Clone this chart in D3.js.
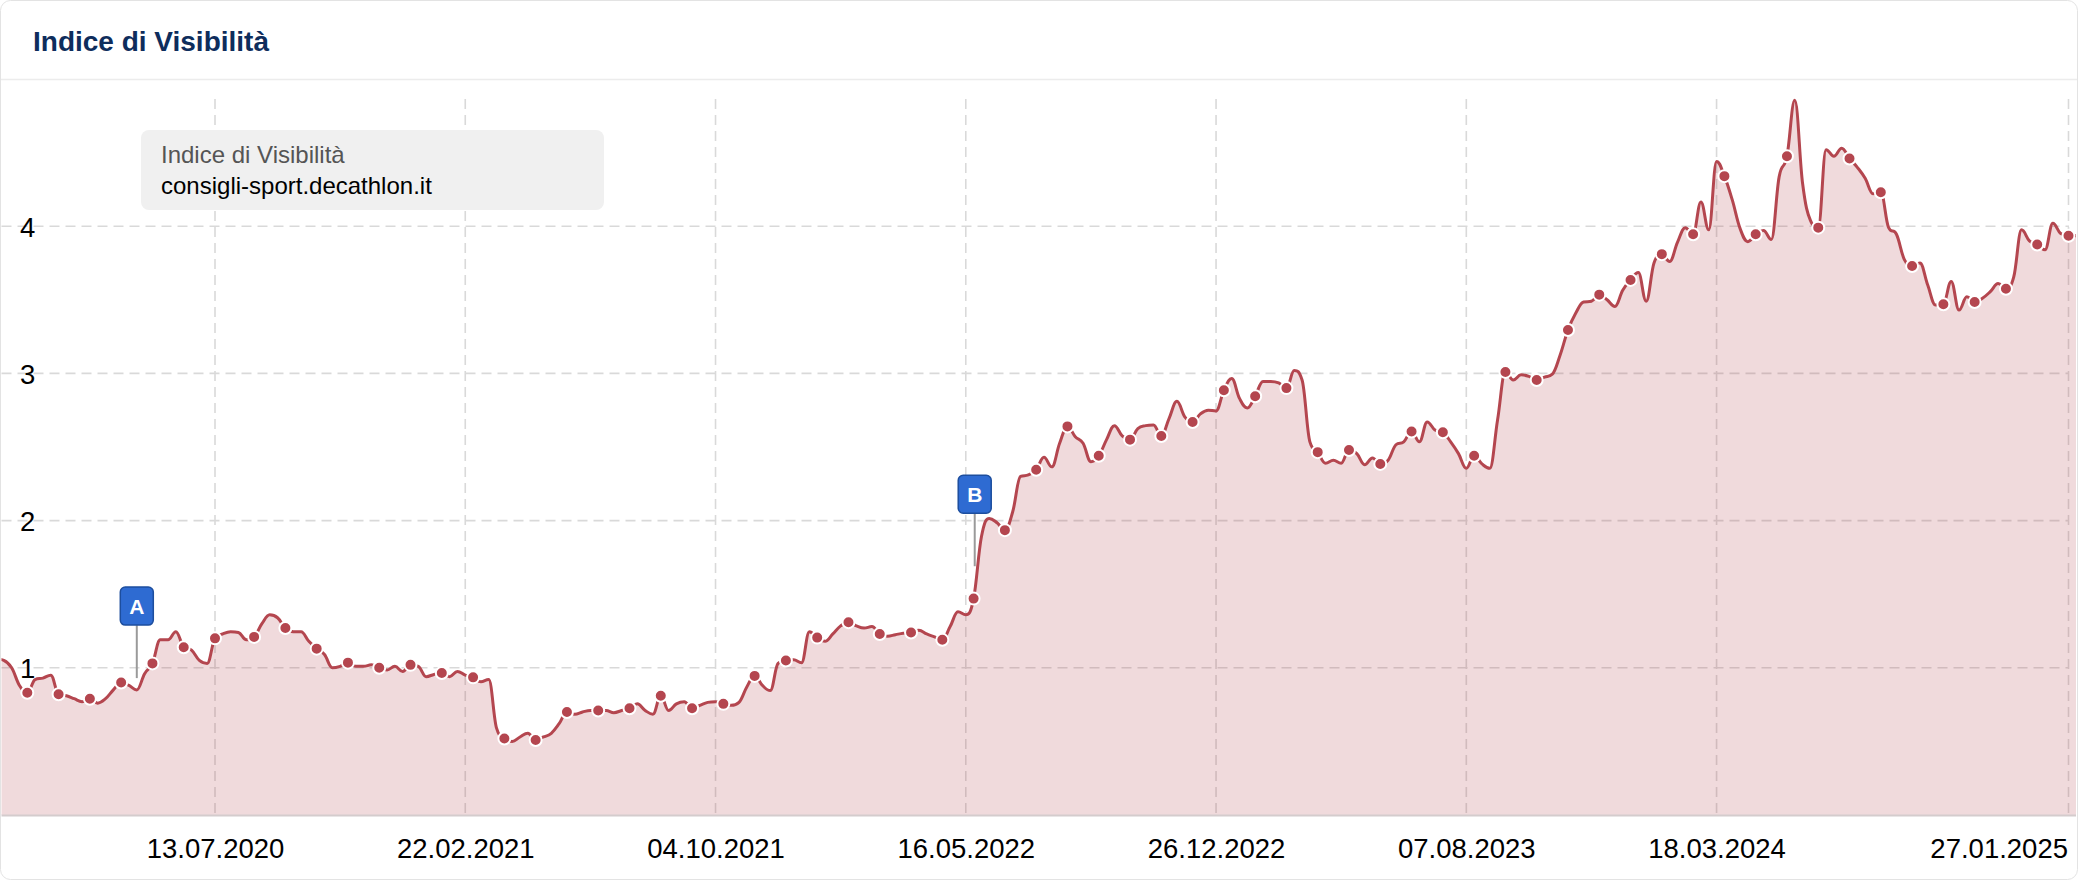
<!DOCTYPE html>
<html>
<head>
<meta charset="utf-8">
<script src="https://cdn.jsdelivr.net/npm/d3@7"></script>
<style>
  html, body { margin: 0; padding: 0; background: #ffffff; }
  svg { display: block; }
</style>
</head>
<body>
<svg id="chart" width="2078" height="880"></svg>
<script>
// ---------------- DATA ----------------
const chartTitle = "Indice di Visibilità";
const seriesLabel = "Indice di Visibilità";
const domainLabel = "consigli-sport.decathlon.it";

// weekly observations, first week starting Monday 30.12.2019
const firstWeek = "2019-12-30";
const values = [
  1.06, 1.05, 1.00, 0.88, 0.83, 0.92, 0.93, 0.95, 0.82, 0.81,
  0.79, 0.77, 0.79, 0.76, 0.79, 0.85, 0.90, 0.88, 0.85, 0.96,
  1.03, 1.19, 1.19, 1.245, 1.14, 1.12, 1.05, 1.03, 1.20, 1.23,
  1.245, 1.24, 1.19, 1.21, 1.30, 1.36, 1.34, 1.27, 1.245, 1.245,
  1.18, 1.13, 1.09, 1.00, 1.01, 1.035, 1.01, 1.01, 1.02, 1.00,
  0.985, 1.01, 0.975, 1.02, 1.01, 0.94, 0.955, 0.965, 0.94, 0.975,
  0.95, 0.935, 0.905, 0.92, 0.59, 0.52, 0.50, 0.53, 0.555, 0.51,
  0.53, 0.555, 0.62, 0.70, 0.685, 0.70, 0.71, 0.71, 0.71, 0.695,
  0.71, 0.725, 0.755, 0.71, 0.685, 0.81, 0.71, 0.755, 0.77, 0.725,
  0.745, 0.765, 0.77, 0.755, 0.745, 0.765, 0.87, 0.945, 0.88, 0.845,
  1.03, 1.05, 1.055, 1.035, 1.245, 1.205, 1.18, 1.23, 1.285, 1.31,
  1.285, 1.27, 1.28, 1.23, 1.215, 1.225, 1.235, 1.24, 1.255, 1.23,
  1.21, 1.19, 1.28, 1.38, 1.36, 1.47, 1.89, 2.015, 1.985, 1.935,
  2.06, 2.30, 2.31, 2.345, 2.43, 2.365, 2.525, 2.64, 2.57, 2.525,
  2.40, 2.44, 2.55, 2.645, 2.575, 2.55, 2.625, 2.645, 2.65, 2.575,
  2.695, 2.81, 2.705, 2.67, 2.725, 2.75, 2.745, 2.885, 2.965, 2.83,
  2.765, 2.845, 2.945, 2.945, 2.935, 2.90, 3.02, 2.955, 2.535, 2.465,
  2.39, 2.41, 2.39, 2.48, 2.455, 2.38, 2.425, 2.385, 2.41, 2.515,
  2.535, 2.605, 2.535, 2.67, 2.615, 2.60, 2.535, 2.455, 2.355, 2.44,
  2.385, 2.355, 2.685, 3.01, 2.955, 2.99, 2.98, 2.955, 2.975, 2.995,
  3.125, 3.295, 3.41, 3.485, 3.49, 3.535, 3.50, 3.455, 3.565, 3.635,
  3.685, 3.49, 3.75, 3.81, 3.76, 3.89, 3.99, 3.945, 4.165, 3.975,
  4.44, 4.34, 4.18, 3.985, 3.895, 3.945, 3.97, 3.91, 4.335, 4.475,
  4.855, 4.29, 4.04, 3.99, 4.52, 4.475, 4.53, 4.46, 4.40, 4.325,
  4.22, 4.23, 3.99, 3.945, 3.775, 3.73, 3.75, 3.60, 3.465, 3.47,
  3.625, 3.43, 3.52, 3.485, 3.51, 3.555, 3.61, 3.575, 3.655, 3.975,
  3.90, 3.875, 3.84, 4.02, 3.95, 3.935, 3.935
];

// indices of the weekly points that carry a marker
const markerIndex = d3.range(4, 29, 4).concat(d3.range(33, 267, 4));

const xTickLabels = ["13.07.2020", "22.02.2021", "04.10.2021", "16.05.2022",
                     "26.12.2022", "07.08.2023", "18.03.2024", "27.01.2025"];
const yTicks = [1, 2, 3, 4];
const yMax = 4.864;

const flags = [
  { label: "A", date: "2020-05-04", value: 0.93 },
  { label: "B", date: "2022-05-24", value: 1.69 }
];

// ---------------- LAYOUT ----------------
const W = 2078, H = 880;
const plot = { left: 1.5, right: 2076, top: 99, bottom: 815, gridRight: 2069 };
const colors = {
  line: "#b4464f",
  fill: "rgba(181,71,79,0.2)",
  grid: "#d9d9d9",
  axis: "#d4cccd",
  title: "#0e2d5c",
  flag: "#2e6bd2",
  flagStroke: "#1d4e9e",
  stem: "#9a9a9a"
};

const parse = d3.utcParse("%Y-%m-%d");
const parseLabel = d3.utcParse("%d.%m.%Y");
const fmt = d3.utcFormat("%d.%m.%Y");
const start = parse(firstWeek);
const data = values.map((v, k) => ({ date: d3.utcWeek.offset(start, k), value: v }));
const tickDates = xTickLabels.map(parseLabel);

const x = d3.scaleUtc()
  .domain([tickDates[0], tickDates[tickDates.length - 1]])
  .range([215, 2068.5]);
const y = d3.scaleLinear().domain([0, yMax]).range([plot.bottom, plot.top]);

// Highcharts-like spline curve for d3
function HCSpline(context) { this._context = context; }
HCSpline.prototype = {
  areaStart() { this._line = 0; },
  areaEnd() { this._line = NaN; },
  lineStart() { this._pts = []; },
  point(px, py) { this._pts.push([+px, +py]); },
  lineEnd() {
    const p = this._pts, c = this._context, n = p.length, s = 1.5, den = 2.5;
    if (n) {
      if (this._line) c.lineTo(p[0][0], p[0][1]); else c.moveTo(p[0][0], p[0][1]);
      let prevR = null;
      for (let i = 1; i < n; i++) {
        const [X, Y] = p[i], [lx, ly] = p[i - 1];
        let lcx = X, lcy = Y, rcx = null, rcy = null;
        if (i < n - 1) {
          const [nx, ny] = p[i + 1];
          lcx = (s * X + lx) / den; lcy = (s * Y + ly) / den;
          rcx = (s * X + nx) / den; rcy = (s * Y + ny) / den;
          let corr = 0;
          if (rcx !== lcx) corr = ((rcy - lcy) * (rcx - X)) / (rcx - lcx) + Y - rcy;
          lcy += corr; rcy += corr;
          if (lcy > ly && lcy > Y) { lcy = Math.max(ly, Y); rcy = 2 * Y - lcy; }
          else if (lcy < ly && lcy < Y) { lcy = Math.min(ly, Y); rcy = 2 * Y - lcy; }
          if (rcy > ny && rcy > Y) { rcy = Math.max(ny, Y); lcy = 2 * Y - rcy; }
          else if (rcy < ny && rcy < Y) { rcy = Math.min(ny, Y); lcy = 2 * Y - rcy; }
        }
        const c1 = prevR || [lx, ly];
        c.bezierCurveTo(c1[0], c1[1], lcx, lcy, X, Y);
        prevR = rcx === null ? null : [rcx, rcy];
      }
    }
    if (this._line || (this._line !== 0 && n === 1)) c.closePath();
    this._line = 1 - this._line;
  }
};
const curveHC = ctx => new HCSpline(ctx);

// ---------------- DRAW ----------------
const svg = d3.select("#chart");

// card
svg.append("rect").attr("x", 0.5).attr("y", 0.5).attr("width", W - 1).attr("height", H - 1)
  .attr("rx", 10).attr("fill", "#fff").attr("stroke", "#e3e3e3");
svg.append("line").attr("x1", 1).attr("x2", W - 1).attr("y1", 79.5).attr("y2", 79.5)
  .attr("stroke", "#ececec").attr("stroke-width", 1.5);
svg.append("text").attr("x", 33).attr("y", 51)
  .attr("font-family", "'Liberation Sans', Arial, sans-serif").attr("font-weight", "bold")
  .attr("font-size", 28).attr("fill", colors.title).text(chartTitle);

svg.append("clipPath").attr("id", "plotClip").append("rect")
  .attr("x", plot.left).attr("y", 0).attr("width", plot.right - plot.left).attr("height", plot.bottom + 10);
svg.append("clipPath").attr("id", "areaClip").append("rect")
  .attr("x", plot.left).attr("y", 0).attr("width", plot.right - plot.left).attr("height", plot.bottom);

// grid lines
const grid = svg.append("g");
grid.selectAll("line.v").data(tickDates).join("line")
  .attr("x1", d => x(d)).attr("x2", d => x(d))
  .attr("y1", plot.top).attr("y2", plot.bottom)
  .attr("stroke", colors.grid).attr("stroke-width", 1.6).attr("stroke-dasharray", "10,6");
grid.selectAll("line.h").data(yTicks).join("line")
  .attr("x1", plot.left).attr("x2", plot.gridRight)
  .attr("y1", d => y(d)).attr("y2", d => y(d))
  .attr("stroke", colors.grid).attr("stroke-width", 1.6).attr("stroke-dasharray", "10,6");

// area + line
svg.append("path").datum(data).attr("clip-path", "url(#areaClip)")
  .attr("d", d3.area().x(d => x(d.date)).y0(y(0)).y1(d => y(d.value)).curve(curveHC))
  .attr("fill", colors.fill);
const series = svg.append("g").attr("clip-path", "url(#plotClip)");
series.append("path").datum(data)
  .attr("d", d3.line().x(d => x(d.date)).y(d => y(d.value)).curve(curveHC))
  .attr("fill", "none").attr("stroke", colors.line).attr("stroke-width", 3)
  .attr("stroke-linejoin", "round");

// x axis
const xAxis = svg.append("g").attr("transform", `translate(0,${plot.bottom})`)
  .call(d3.axisBottom(x).tickValues(tickDates).tickFormat(fmt).tickSize(0).tickPadding(23));
xAxis.select(".domain").remove();
xAxis.selectAll("text").attr("font-family", "'Liberation Sans', Arial, sans-serif")
  .attr("font-size", 27.5).attr("fill", "#000");
xAxis.selectAll(".tick").filter((d, i, n) => i === n.length - 1).select("text")
  .attr("text-anchor", "end").attr("dx", -1);
svg.append("line").attr("x1", plot.left).attr("x2", plot.right)
  .attr("y1", plot.bottom + 0.5).attr("y2", plot.bottom + 0.5)
  .attr("stroke", colors.axis).attr("stroke-width", 2);

// y axis labels
const yAxis = svg.append("g").attr("transform", "translate(0,0)")
  .call(d3.axisRight(y).tickValues(yTicks).tickFormat(d3.format("d")).tickSize(0).tickPadding(20));
yAxis.select(".domain").remove();
yAxis.selectAll("text").attr("font-family", "'Liberation Sans', Arial, sans-serif")
  .attr("font-size", 27.5).attr("fill", "#000").attr("dy", "0.36em");

// markers
series.selectAll("circle").data(markerIndex.map(k => data[k])).join("circle")
  .attr("cx", d => x(d.date)).attr("cy", d => y(d.value)).attr("r", 6)
  .attr("fill", colors.line).attr("stroke", "#fff").attr("stroke-width", 2);

// flags
const fl = svg.append("g").selectAll("g").data(flags).join("g")
  .attr("transform", d => `translate(${x(parse(d.date))},${y(d.value)})`);
fl.append("line").attr("x1", 0).attr("x2", 0).attr("y1", 0).attr("y2", -53)
  .attr("stroke", colors.stem).attr("stroke-width", 2);
fl.append("rect").attr("x", -16.5).attr("y", -91).attr("width", 33).attr("height", 38)
  .attr("rx", 5).attr("fill", colors.flag).attr("stroke", colors.flagStroke).attr("stroke-width", 1.5);
fl.append("text").attr("x", 0).attr("y", -64).attr("text-anchor", "middle")
  .attr("font-family", "'Liberation Sans', Arial, sans-serif").attr("font-weight", "bold")
  .attr("font-size", 21).attr("fill", "#fff").text(d => d.label);

// legend box
const lg = svg.append("g");
lg.append("rect").attr("x", 141).attr("y", 130).attr("width", 463).attr("height", 80)
  .attr("rx", 8).attr("fill", "#f0f0f0");
lg.append("text").attr("x", 161).attr("y", 163)
  .attr("font-family", "'Liberation Sans', Arial, sans-serif").attr("font-size", 24)
  .attr("fill", "#555").text(seriesLabel);
lg.append("text").attr("x", 161).attr("y", 194)
  .attr("font-family", "'Liberation Sans', Arial, sans-serif").attr("font-size", 24)
  .attr("fill", "#000").text(domainLabel);
</script>
</body>
</html>
